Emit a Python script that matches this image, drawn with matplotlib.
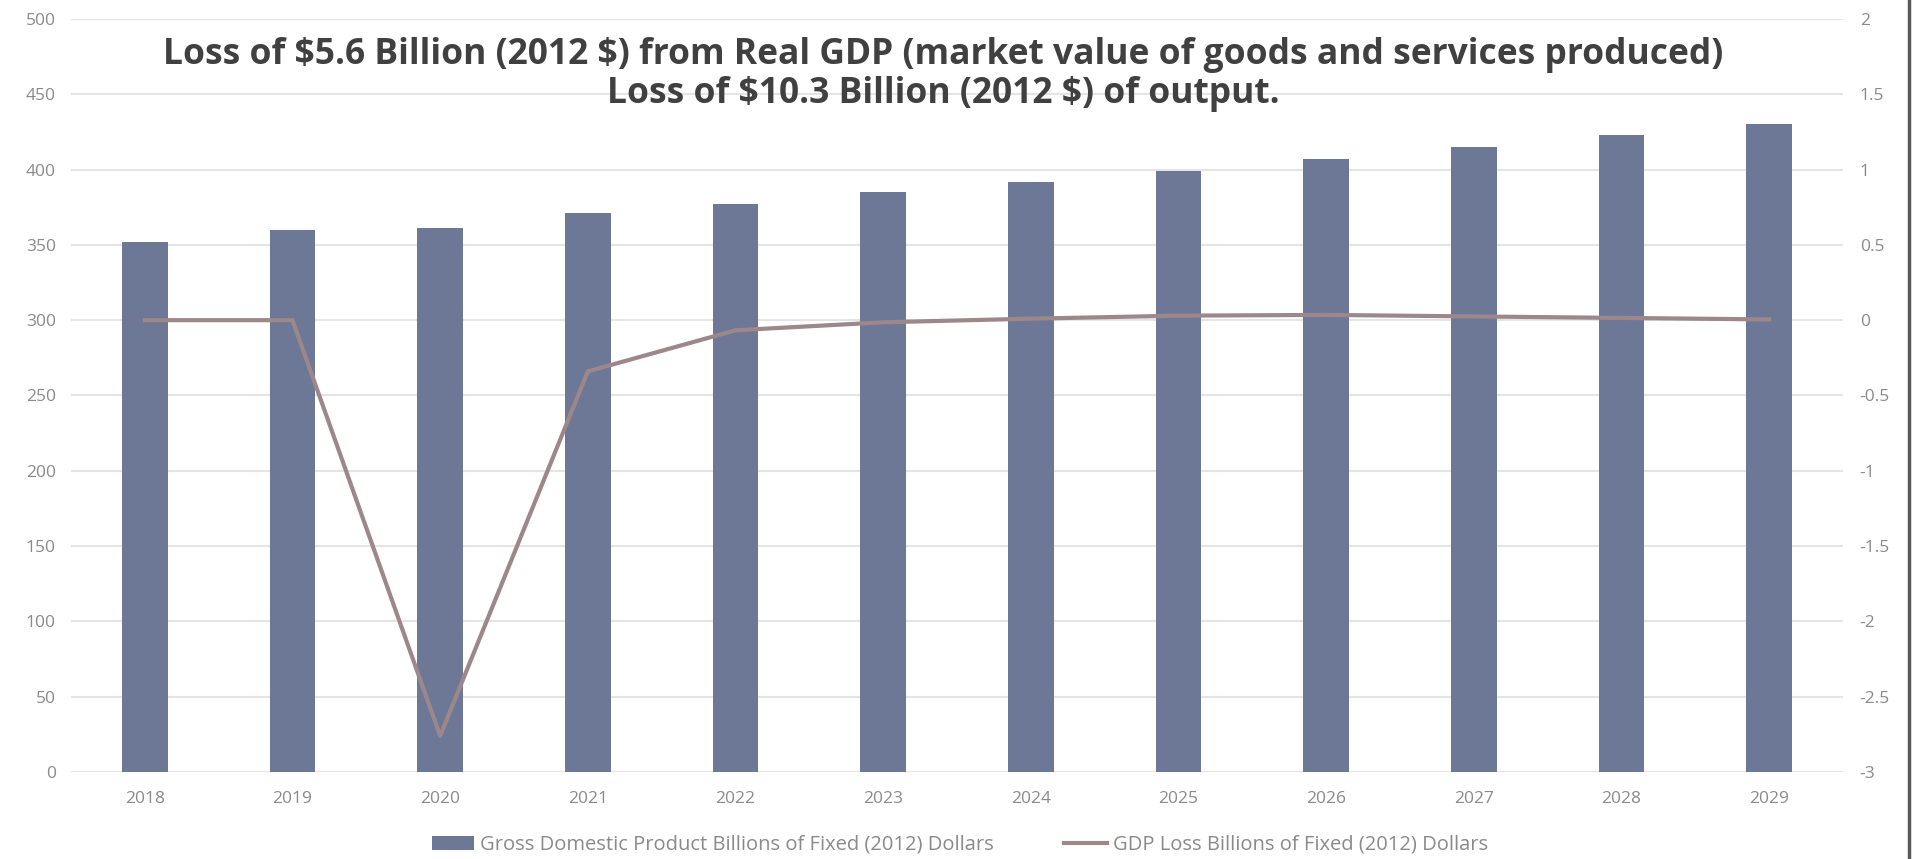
import matplotlib.pyplot as plt
import numpy as np

years = ['2018', '2019', '2020', '2021', '2022', '2023',
         '2024', '2025', '2026', '2027', '2028', '2029']
gdp = [352, 360, 361, 371, 377, 385, 392, 399, 407, 415, 423, 430]
gdp_loss = [0.0, 0.0, -2.76, -0.34, -0.067, -0.014, 0.01, 0.03, 0.035, 0.025, 0.015, 0.005]

bar_color = '#6d7896'
line_color = '#9c878b'
tick_color = '#8a8a8a'
grid_color = '#e4e4e4'

plt.rcParams['font.family'] = ['Open Sans', 'DejaVu Sans']

fig = plt.figure(figsize=(19.14, 8.59), dpi=100)
ax = fig.add_axes([0.0371, 0.1013, 0.9258, 0.8766])
ax2 = ax.twinx()

x = np.arange(len(years))
bars = ax.bar(x, gdp, width=0.31, color=bar_color, zorder=2,
              label='Gross Domestic Product Billions of Fixed (2012) Dollars')
line, = ax2.plot(x, gdp_loss, color=line_color, lw=3, zorder=3,
                 label='GDP Loss Billions of Fixed (2012) Dollars')

ax.set_xlim(-0.5, len(years) - 0.5)
ax.set_ylim(0, 500)
ax.set_yticks(np.arange(0, 501, 50))
ax2.set_ylim(-3, 2)
ax2.set_yticks(np.arange(-3, 2.01, 0.5))
ax2.set_yticklabels(['-3', '-2.5', '-2', '-1.5', '-1', '-0.5', '0',
                     '0.5', '1', '1.5', '2'])
ax.set_xticks(x)
ax.set_xticklabels(years)

ax.grid(axis='y', color=grid_color, lw=1.5, zorder=0)
ax.set_axisbelow(True)
for a in (ax, ax2):
    for s in a.spines.values():
        s.set_visible(False)
    a.tick_params(length=0, labelsize=12.5, colors=tick_color)
ax.tick_params(axis='y', pad=11)
ax.tick_params(axis='x', pad=14)
ax2.tick_params(axis='y', pad=12)

title_kw = dict(ha='center', va='center', fontsize=25.5, fontweight='bold',
                color='#404040')
fig.text(0.493, 0.936,
         'Loss of \\$5.6 Billion (2012 \\$) from Real GDP (market value of goods and services produced)',
         **title_kw)
fig.text(0.493, 0.891, 'Loss of \\$10.3 Billion (2012 \\$) of output.', **title_kw)

fig.legend(handles=[bars, line], loc='center', bbox_to_anchor=(0.5015, 0.0163),
           ncol=2, frameon=False, fontsize=14.5, labelcolor=tick_color,
           handlelength=2.1, handleheight=0.7, handletextpad=0.3,
           columnspacing=3.5)

# thin frame edge on the right
fig.add_artist(plt.Line2D([0.9975, 0.9975], [0, 1], color='#5a5a5a', lw=2.5,
                          transform=fig.transFigure))

fig.savefig('out.png', dpi=100)
